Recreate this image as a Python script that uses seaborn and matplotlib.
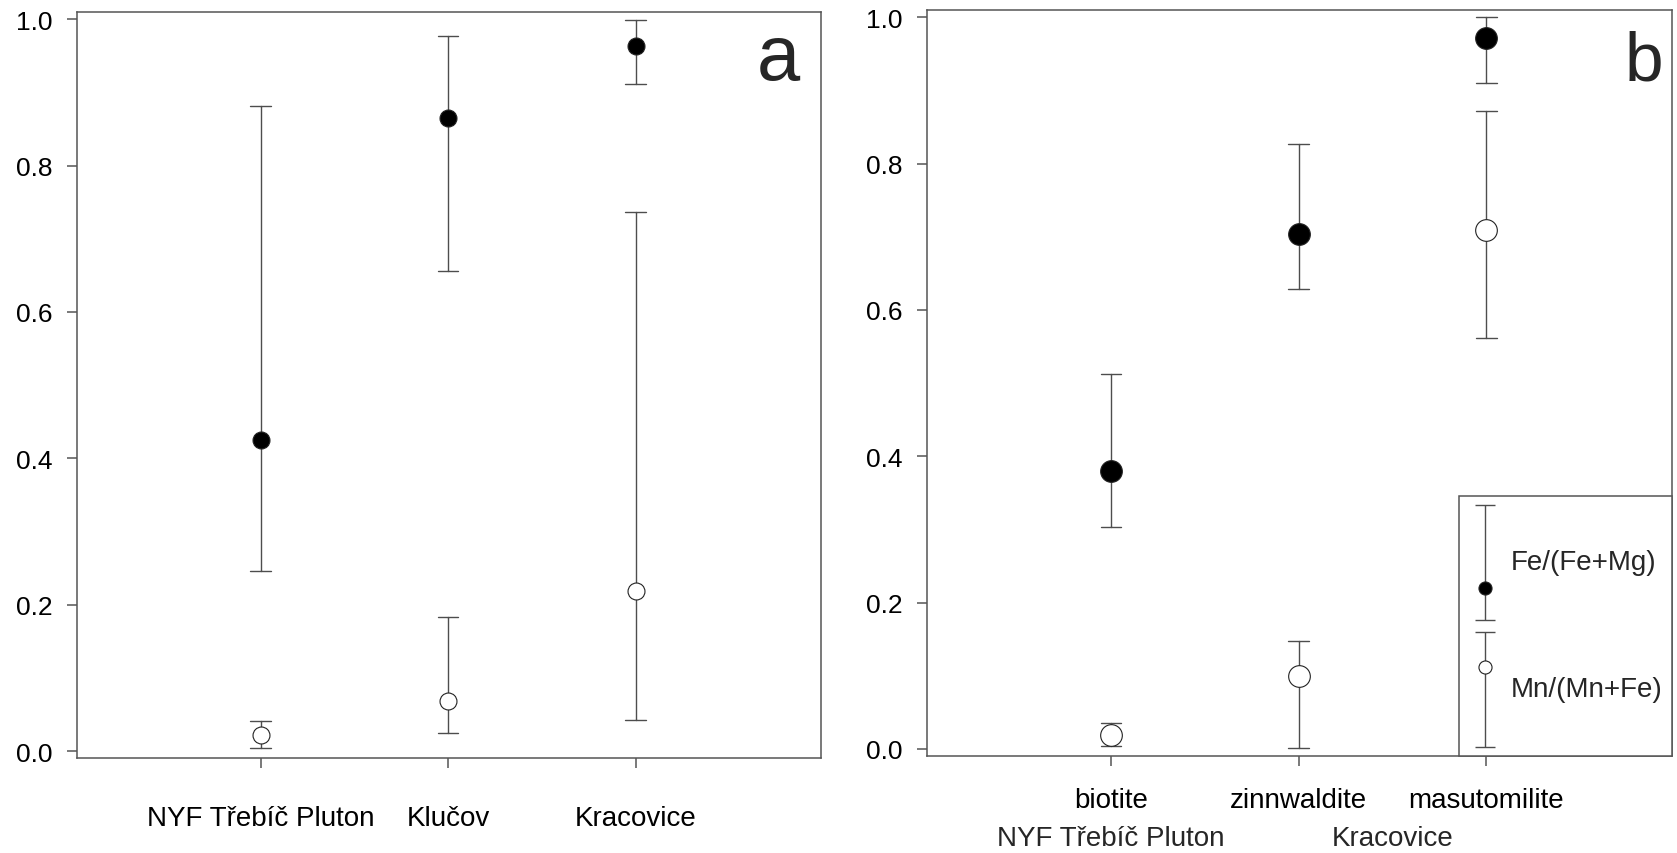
import numpy as np
import pandas as pd
import matplotlib
matplotlib.use("Agg")
import matplotlib.pyplot as plt
import seaborn as sns
from matplotlib.container import ErrorbarContainer
from matplotlib.lines import Line2D
from matplotlib.collections import LineCollection
from matplotlib.legend_handler import HandlerErrorbar
import matplotlib.transforms as mtransforms

# panel a: localities
cats_a = ["NYF Třebíč Pluton", "Klučov", "Kracovice"]
fe_mean_a = [0.425, 0.865, 0.964]
fe_lo_a = [0.246, 0.656, 0.912]
fe_hi_a = [0.881, 0.977, 0.999]
mn_mean_a = [0.022, 0.068, 0.219]
mn_lo_a = [0.004, 0.024, 0.043]
mn_hi_a = [0.041, 0.183, 0.736]

# panel b: micas
cats_b = ["biotite", "zinnwaldite", "masutomilite"]
groups_b = ["NYF Třebíč Pluton", "Kracovice"]
group_pos_b = [[0], [1, 2]]
fe_mean_b = [0.380, 0.704, 0.971]
fe_lo_b = [0.303, 0.629, 0.910]
fe_hi_b = [0.513, 0.827, 1.000]
mn_mean_b = [0.019, 0.100, 0.709]
mn_lo_b = [0.004, 0.001, 0.562]
mn_hi_b = [0.036, 0.147, 0.872]

series_names = ["Fe/(Fe+Mg)", "Mn/(Mn+Fe)"]
yticks = [0.0, 0.2, 0.4, 0.6, 0.8, 1.0]

LINE = "#4d4d4d"
EDGE = "#555555"

sns.set_theme(style="ticks", rc={
    "axes.edgecolor": EDGE,
    "axes.linewidth": 1.1,
    "xtick.color": EDGE,
    "ytick.color": EDGE,
    "xtick.labelcolor": "black",
    "ytick.labelcolor": "black",
})
plt.rcParams["font.family"] = ["Liberation Sans", "DejaVu Sans"]


def long_table(cats, mean, lo, hi):
    # three rows per category: low, mean, high -> median gives mean, min/max gives the bar
    rows = []
    for c, m, l, h in zip(cats, mean, lo, hi):
        for v in (l, m, h):
            rows.append({"cat": c, "value": v})
    return pd.DataFrame(rows)


def draw_series(ax, cats, mean, lo, hi, face, msize):
    df = long_table(cats, mean, lo, hi)
    sns.pointplot(
        data=df, x="cat", y="value", order=cats, ax=ax,
        estimator=np.median, errorbar=lambda v: (v.min(), v.max()),
        capsize=0.11, linestyle="none", marker="o",
        color=LINE, markerfacecolor=face, markeredgecolor="#222222",
        markersize=msize, markeredgewidth=0.8, zorder=3,
        err_kws={"color": LINE, "linewidth": 1.0, "zorder": 2},
    )


def style_axes(ax, cats, xpad):
    ax.set_xlim(-0.98, 2.99)
    ax.set_ylim(-0.0096, 1.0098)
    ax.set_yticks(yticks)
    ax.set_yticklabels([f"{t:.1f}" for t in yticks])
    ax.set_xticks(range(len(cats)))
    ax.set_xticklabels(cats)
    ax.set_xlabel("")
    ax.set_ylabel("")
    ax.tick_params(axis="y", direction="out", length=7.5, width=1.1, labelsize=19, pad=10)
    ax.tick_params(axis="x", direction="out", length=7, width=1.1, labelsize=20, pad=xpad)
    for s in ax.spines.values():
        s.set_visible(True)
        s.set_color(EDGE)
        s.set_linewidth(1.1)


fig = plt.figure(figsize=(16.77, 8.54), dpi=100)
ax_a = fig.add_axes([0.0459, 0.1112, 0.4437, 0.8735])
ax_b = fig.add_axes([0.5528, 0.1136, 0.4442, 0.8735])

# panel a
draw_series(ax_a, cats_a, fe_mean_a, fe_lo_a, fe_hi_a, "black", 12.2)
draw_series(ax_a, cats_a, mn_mean_a, mn_lo_a, mn_hi_a, "white", 12.2)
style_axes(ax_a, cats_a, 27)
ax_a.text(0.942, 0.91, "a", transform=ax_a.transAxes, fontsize=56,
          ha="center", va="baseline")

# panel b
draw_series(ax_b, cats_b, fe_mean_b, fe_lo_b, fe_hi_b, "black", 15.6)
draw_series(ax_b, cats_b, mn_mean_b, mn_lo_b, mn_hi_b, "white", 15.6)
style_axes(ax_b, cats_b, 15)
ax_b.text(0.962, 0.9075, "b", transform=ax_b.transAxes, fontsize=50,
          ha="center", va="baseline")

trans_b = mtransforms.blended_transform_factory(ax_b.transData, ax_b.transAxes)
for name, pos in zip(groups_b, group_pos_b):
    ax_b.text(np.mean(pos), -0.092, name, transform=trans_b, fontsize=20,
              ha="center", va="top")


# legend with vertical error-bar handles
class CenteredErrorbar(HandlerErrorbar):
    # stock handler puts the bar above the middle of a tall handle box;
    # also lets the marker sit off-centre on its bar like the original
    def create_artists(self, legend, orig_handle, xdescent, ydescent,
                       width, height, fontsize, trans):
        artists = super().create_artists(legend, orig_handle, xdescent, ydescent,
                                         width, height - ydescent, fontsize, trans)
        shift = getattr(orig_handle, "marker_shift", 0.0)
        marker = artists[-1]
        marker.set_ydata(np.asarray(marker.get_ydata()) + shift)
        return artists


def proxy(face, shift):
    m = Line2D([], [], linestyle="none", marker="o", markersize=9.4,
               markerfacecolor=face, markeredgecolor="#222222", markeredgewidth=0.8)
    cap = Line2D([], [], linestyle="none", color=LINE, markersize=14, markeredgewidth=1.0)
    bar = LineCollection([], colors=LINE, linewidths=1.0)
    cont = ErrorbarContainer((m, (cap, cap), (bar,)), has_xerr=False, has_yerr=True)
    cont.marker_shift = shift
    return cont


handles = [proxy("black", -18), proxy("white", 16)]
leg = ax_b.legend(
    handles, series_names, loc="lower right", borderaxespad=0,
    fontsize=20, frameon=True, fancybox=False, framealpha=1,
    edgecolor=EDGE, handlelength=1.15, handleheight=5.9, handletextpad=0.35,
    labelspacing=0.49, borderpad=0.35,
    handler_map={ErrorbarContainer: CenteredErrorbar(yerr_size=2.06, numpoints=1)},
)
leg.get_frame().set_linewidth(1.1)

fig.savefig("out.png", dpi=100)
